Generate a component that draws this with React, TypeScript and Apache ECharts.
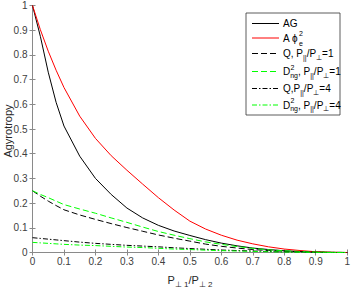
import React, { useEffect, useRef } from "react";
import * as echarts from "echarts";

const xs = [0, 0.025, 0.05, 0.075, 0.1, 0.15, 0.2, 0.25, 0.3, 0.35, 0.4, 0.45, 0.5, 0.55, 0.6, 0.65, 0.7, 0.75, 0.8, 0.85, 0.9, 0.95, 1];
const agVals = [1, 0.875, 0.73, 0.608, 0.512, 0.39, 0.3, 0.235, 0.18, 0.14, 0.11, 0.087, 0.069, 0.052, 0.038, 0.027, 0.018, 0.012, 0.007, 0.004, 0.002, 0.0005, 0];
const aphiVals = [1, 0.902, 0.815, 0.738, 0.668, 0.552, 0.462, 0.392, 0.333, 0.277, 0.222, 0.172, 0.127, 0.095, 0.07, 0.05, 0.035, 0.023, 0.014, 0.008, 0.003, 0.001, 0];
const q1Vals = [0.25, 0.228, 0.208, 0.19, 0.173, 0.152, 0.134, 0.117, 0.101, 0.086, 0.071, 0.058, 0.046, 0.034, 0.025, 0.018, 0.012, 0.008, 0.005, 0.003, 0.001, 0.0003, 0];
const d1Vals = [0.25, 0.235, 0.222, 0.208, 0.194, 0.176, 0.159, 0.14, 0.122, 0.103, 0.085, 0.07, 0.056, 0.043, 0.033, 0.024, 0.017, 0.011, 0.007, 0.004, 0.002, 0.0005, 0];
const q4Vals = [0.06, 0.057, 0.054, 0.051, 0.048, 0.042, 0.037, 0.033, 0.029, 0.026, 0.023, 0.019, 0.016, 0.013, 0.01, 0.008, 0.006, 0.004, 0.0025, 0.0015, 0.0007, 0.0002, 0];
const d4Vals = [0.041, 0.039, 0.037, 0.035, 0.033, 0.03, 0.028, 0.025, 0.022, 0.02, 0.017, 0.014, 0.012, 0.0095, 0.0075, 0.006, 0.0045, 0.003, 0.002, 0.001, 0.0005, 0.0001, 0];
const tickLabels = ["0", "0.1", "0.2", "0.3", "0.4", "0.5", "0.6", "0.7", "0.8", "0.9", "1"];

const FONT = "'Liberation Sans', Arial, Helvetica, sans-serif";
const AXIS = "#8a8a8a";
const LABEL = "#404040";
const GREEN = "#00ff00";
const DASH = [6, 3];
const DASHDOT = [5, 2, 1.5, 2];

const pairs = (ys: number[]) => xs.map((x, i) => [x, ys[i]]);

export default function App() {
  const ref = useRef<HTMLDivElement>(null);
  useEffect(() => {
    if (!ref.current) return;
    const chart = echarts.init(ref.current, undefined, { renderer: "svg" });
    const mkSeries = (name: string, ys: number[], color: string, type: any) => ({
      name,
      type: "line",
      data: pairs(ys),
      symbol: "none",
      showSymbol: false,
      smooth: false,
      lineStyle: { color, width: 1, type },
      z: 3,
    });
    const fmt = (v: number) => tickLabels[Math.round(v * 10)] ?? "";
    const baseX = {
      type: "value",
      min: 0,
      max: 1,
      interval: 0.1,
      splitLine: { show: false },
      axisLine: { show: true, lineStyle: { color: AXIS, width: 1 } },
      axisTick: { show: true, inside: true, length: 3, lineStyle: { color: AXIS } },
    };
    const sub = { fontSize: 7, fontFamily: FONT, fill: "#000", verticalAlign: "bottom", lineHeight: 7 };
    const nrm = { fontSize: 10, fontFamily: FONT, fill: "#000", lineHeight: 14 };
    const legendRows = [
      { y: 23.5, color: "#000", dash: null, text: "{n|AG}" },
      { y: 38, color: "#ff0000", dash: null, text: "{n|A ϕ}" },
      { y: 53.5, color: "#000", dash: DASH, text: "{n|Q, P}{s|||}{n|/P}{s|⊥}{n|=1}" },
      { y: 71.5, color: GREEN, dash: DASH, text: "{n|D}{s|ng}{n|, P}{s|||}{n|/P}{s|⊥}{n|=1}" },
      { y: 88.5, color: "#000", dash: DASHDOT, text: "{n|Q,P}{s|||}{n|/P}{s|⊥}{n|=4}" },
      { y: 105, color: GREEN, dash: DASHDOT, text: "{n|D}{s|ng}{n|, P}{s|||}{n|/P}{s|⊥}{n|=4}" },
    ];
    const graphic: any[] = [
      {
        type: "rect",
        shape: { x: 246, y: 13, width: 94, height: 102 },
        style: { fill: "#fff", stroke: "#333", lineWidth: 0.8 },
        z: 10,
      },
    ];
    legendRows.forEach((r) => {
      graphic.push({
        type: "line",
        shape: { x1: 252, y1: r.y, x2: 279, y2: r.y },
        style: { stroke: r.color, lineWidth: 1, lineDash: r.dash || undefined },
        z: 11,
      });
      graphic.push({
        type: "text",
        x: 283,
        y: r.y,
        style: { text: r.text, align: "left", verticalAlign: "middle", rich: { n: nrm, s: sub } },
        z: 11,
      });
    });
    graphic.push({ type: "text", x: 299, y: 33, style: { text: "2", font: `7px ${FONT}`, fill: "#000", align: "left", verticalAlign: "middle" }, z: 11 });
    graphic.push({ type: "text", x: 299, y: 43.5, style: { text: "e", font: `7px ${FONT}`, fill: "#000", align: "left", verticalAlign: "middle" }, z: 11 });
    graphic.push({ type: "text", x: 290.5, y: 67, style: { text: "2", font: `7px ${FONT}`, fill: "#000", align: "left", verticalAlign: "middle" }, z: 11 });
    graphic.push({ type: "text", x: 290.5, y: 100.5, style: { text: "2", font: `7px ${FONT}`, fill: "#000", align: "left", verticalAlign: "middle" }, z: 11 });
    graphic.push({
      type: "text",
      x: 190,
      y: 280,
      style: {
        text: "{n|P}{s|⊥ 1}{n|/P}{s|⊥ 2}",
        align: "center",
        verticalAlign: "middle",
        rich: {
          n: { fontSize: 11, fontFamily: FONT, fill: "#262626", lineHeight: 16 },
          s: { fontSize: 8, fontFamily: FONT, fill: "#262626", lineHeight: 8, verticalAlign: "bottom" },
        },
      },
    });
    graphic.push({
      type: "text",
      x: 8,
      y: 131,
      rotation: Math.PI / 2,
      style: { text: "Agyrotropy", font: `11px ${FONT}`, fill: "#262626", align: "center", verticalAlign: "middle" },
    });

    chart.setOption({
      animation: false,
      backgroundColor: "#fff",
      grid: { left: 32.5, right: 5, top: 5.5, bottom: 37.5, containLabel: false },
      xAxis: [
        {
          ...baseX,
          position: "bottom",
          axisLabel: { show: true, formatter: fmt, color: LABEL, fontSize: 10, fontFamily: FONT, margin: 4 },
        },
        { ...baseX, position: "top", axisLabel: { show: false } },
      ],
      yAxis: [
        {
          ...baseX,
          position: "left",
          axisLabel: { show: true, formatter: fmt, color: LABEL, fontSize: 10, fontFamily: FONT, margin: 5 },
        },
        { ...baseX, position: "right", axisLabel: { show: false } },
      ],
      series: [
        mkSeries("AG", agVals, "#000", "solid"),
        mkSeries("Aphi", aphiVals, "#ff0000", "solid"),
        mkSeries("Q1", q1Vals, "#000", DASH),
        mkSeries("D1", d1Vals, GREEN, DASH),
        mkSeries("Q4", q4Vals, "#000", DASHDOT),
        mkSeries("D4", d4Vals, GREEN, DASHDOT),
      ],
      graphic,
    });
    return () => chart.dispose();
  }, []);
  return (
    <div
      ref={ref}
      style={{ position: "fixed", left: 0, top: 0, width: 353, height: 290, background: "#fff" }}
    />
  );
}
